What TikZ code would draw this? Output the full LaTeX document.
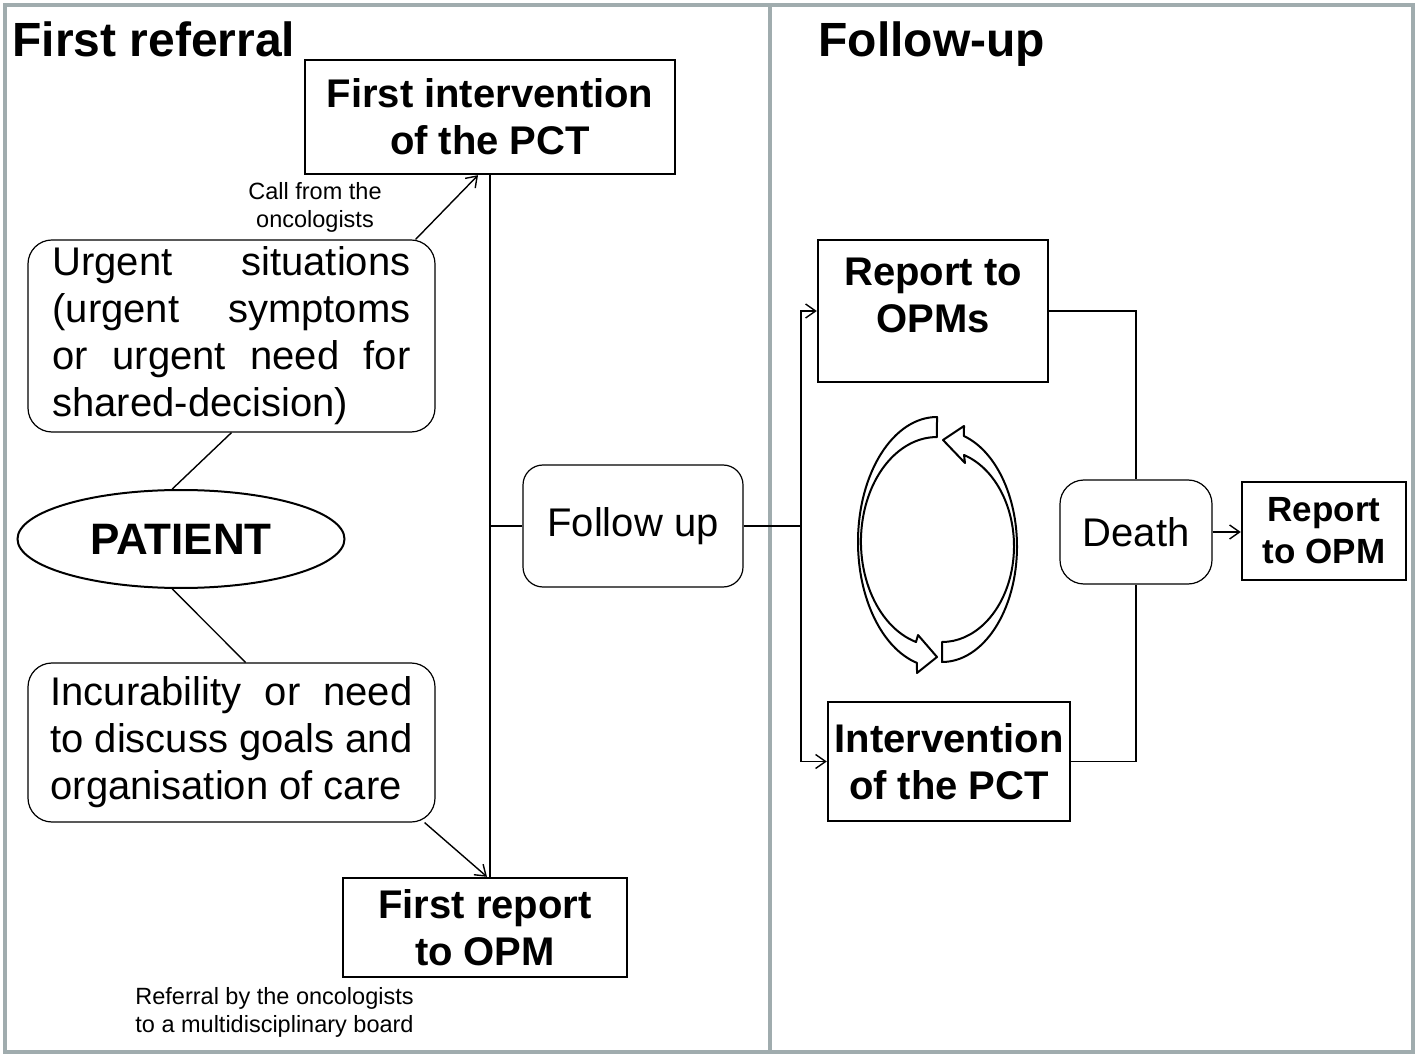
\documentclass[tikz,border=0pt]{standalone}
\usepackage{fontspec}
\setmainfont{Liberation Sans}
\usepackage{tikz}
\usetikzlibrary{shapes,arrows.meta}
\definecolor{framegray}{RGB}{160,172,174}
\newcommand{\jline}[2]{\makebox[#1][s]{\spaceskip=0pt\xspaceskip=0pt #2}}

\begin{document}
\begin{tikzpicture}[x=0.5pt,y=-0.5pt,
  >={Straight Barb[length=5pt,width=7pt]},
  title/.style={font=\fontsize{24}{29}\selectfont\bfseries,anchor=base west,inner sep=0},
  bbox/.style={draw,line width=1.2pt,inner sep=0,align=center,font=\fontsize{20}{23.5}\selectfont\bfseries},
  rbox/.style={draw,line width=0.6pt,rounded corners=12pt,inner sep=0,font=\fontsize{20}{23.5}\selectfont},
  note/.style={font=\fontsize{11.75}{14}\selectfont,inner sep=0},
  link/.style={line width=0.7pt},
  cyc/.style={draw,fill=white,line width=1pt,line join=round}]
\useasboundingbox (0,0) rectangle (1418,1058);
\draw[framegray,line width=2pt] (5,5) rectangle (770,1052) (770,5) rectangle (1413,1052);
\node[title] (t1) at (12,57) {First referral};
\node[title] (t2) at (818,57) {Follow-up};

\node[bbox,minimum width=185pt,minimum height=57pt] (fint) at (490,117) {First intervention\\of the PCT};
\node[note,align=center] (call) at (315,207) {Call from the\\oncologists};
\node[rbox,minimum width=203.5pt,minimum height=96pt,text width=179pt,align=justify] (urg) at (231.5,336)
  {\jline{179pt}{Urgent situations}\\\jline{179pt}{(urgent symptoms}\\\jline{179pt}{or urgent need for}\\shared-decision)};
\node[draw,ellipse,line width=1pt,minimum width=163.5pt,minimum height=49pt,inner sep=0,
  font=\fontsize{22}{26}\selectfont\bfseries] (pat) at (181,539) {PATIENT};
\node[rbox,minimum width=203.5pt,minimum height=79.5pt,text width=181pt,align=justify] (inc) at (231.5,742.5)
  {\jline{181pt}{Incurability or need}\\\jline{181pt}{to discuss goals and}\\organisation of care};
\node[bbox,minimum width=142pt,minimum height=49.5pt] (frep) at (485,927.5) {First report\\to OPM};
\node[note,align=left,anchor=west] (refb) at (135,1012) {Referral by the oncologists\\to a multidisciplinary board};
\node[rbox,minimum width=110pt,minimum height=61pt,rounded corners=10pt] (fup) at (633,526) {Follow up};

\node[bbox,minimum width=115pt,minimum height=71pt] (ropms) at (933,311) {};
\node[bbox,draw=none] (ropmstxt) at (933,295) {Report to\\OPMs};
\node[bbox,minimum width=121pt,minimum height=59.5pt] (intv) at (949,761.5) {Intervention\\of the PCT};
\node[rbox,minimum width=76pt,minimum height=52pt] (death) at (1136,532) {Death};
\node[bbox,minimum width=82pt,minimum height=49pt,font=\fontsize{17.5}{21}\selectfont\bfseries] (ropm) at (1324,531) {Report\\to OPM};
\coordinate (split) at (801,526);

\draw[link] (urg.south) -- (pat.100);
\draw[link] (pat.-100) -- (inc.80);
\draw[link,->] ([xshift=-10pt]urg.north east) -- ([xshift=-6pt]fint.south);
\draw[link] (fint.south) -- (fint.south |- frep.north);
\draw[link,->] ([xshift=-5.5pt]inc.south east) -- ([xshift=1pt]frep.north);
\draw[link] (fint.south |- fup.west) -- (fup.west);
\draw[link] (fup.east) -- (split);
\draw[link,->] (split) |- (ropms.west);
\draw[link,->] (split) |- (intv.west);
\draw[link] (ropms.east) -| (death.north);
\draw[link] (intv.east) -| (death.south);
\draw[link,->] (death.east) -- (death.east -| ropm.west);

\draw[cyc] (937,417) arc[start angle=270,end angle=104.7,x radius=79,y radius=125]
  -- (917,673) -- (937,657) -- (918,635) -- (916,642)
  arc[start angle=106,end angle=270,x radius=76,y radius=104.5] -- cycle;
\draw[cyc] (942,662) arc[start angle=90,end angle=-73,x radius=75,y radius=115.5]
  -- (964,426) -- (943,440) -- (965,463) -- (964,455)
  arc[start angle=-72.2,end angle=90,x radius=72,y radius=95.8] -- cycle;
\end{tikzpicture}
\end{document}
